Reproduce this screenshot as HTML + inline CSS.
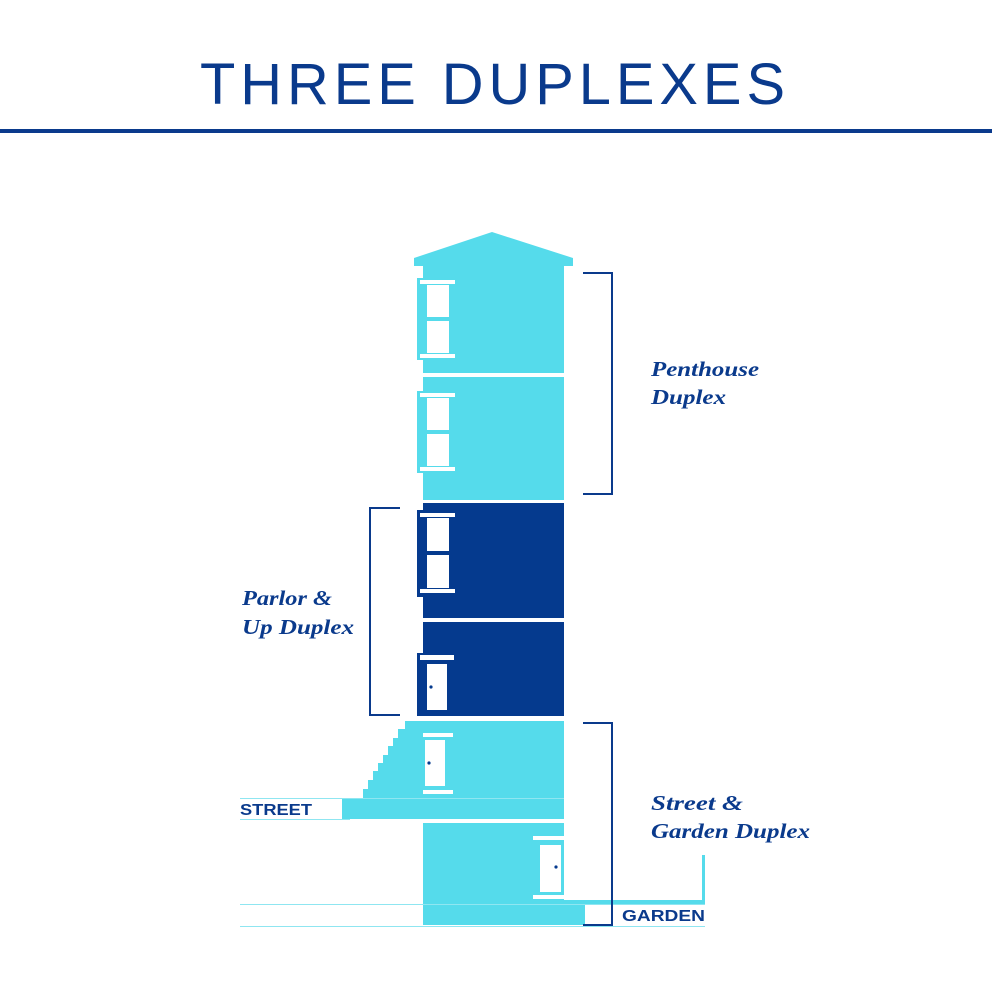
<!DOCTYPE html>
<html><head><style>
html,body{margin:0;padding:0;background:#fff;}
svg{display:block;}
.lbl{font-family:"Liberation Serif",serif;font-weight:bold;font-style:italic;font-size:21px;fill:#0a3a8c;}
.cap{font-family:"Liberation Sans",sans-serif;font-weight:bold;font-size:16px;fill:#0a3a8c;}
</style></head><body>
<svg width="992" height="992" viewBox="0 0 992 992" xmlns="http://www.w3.org/2000/svg">
<text x="495" y="104" text-anchor="middle" font-family="Liberation Sans,sans-serif" font-size="58" fill="#0a3a8c" letter-spacing="5" textLength="590" lengthAdjust="spacingAndGlyphs">THREE DUPLEXES</text>
<rect x="0" y="129" width="992" height="4" fill="#0a3a8c"/>

<polygon points="414,258 492,232 573,258 573,266 414,266" fill="#55dbeb"/>
<rect x="423" y="265" width="141" height="108" fill="#55dbeb"/>
<rect x="423" y="377" width="141" height="123" fill="#55dbeb"/>
<g>
<rect x="417" y="278" width="6" height="82" fill="#55dbeb"/>
<rect x="420" y="280" width="35" height="4" fill="#fff"/>
<rect x="427" y="285" width="22" height="68" fill="#fff"/>
<rect x="427" y="317" width="22" height="4" fill="#55dbeb"/>
<rect x="420" y="354" width="35" height="4" fill="#fff"/>
</g>
<g>
<rect x="417" y="391" width="6" height="82" fill="#55dbeb"/>
<rect x="420" y="393" width="35" height="4" fill="#fff"/>
<rect x="427" y="398" width="22" height="68" fill="#fff"/>
<rect x="427" y="430" width="22" height="4" fill="#55dbeb"/>
<rect x="420" y="467" width="35" height="4" fill="#fff"/>
</g>
<rect x="423" y="503" width="141" height="115" fill="#053a8e"/>
<rect x="423" y="622" width="141" height="94" fill="#053a8e"/>
<rect x="417" y="510" width="6" height="87" fill="#053a8e"/>
<rect x="420" y="513" width="35" height="4" fill="#fff"/>
<rect x="427" y="518" width="22" height="70" fill="#fff"/>
<rect x="427" y="551" width="22" height="4" fill="#053a8e"/>
<rect x="420" y="589" width="35" height="4" fill="#fff"/>
<rect x="417" y="653" width="6" height="63" fill="#053a8e"/>
<rect x="420" y="655" width="34" height="5" fill="#fff"/>
<rect x="427" y="664" width="20" height="46" fill="#fff"/>
<circle cx="431" cy="687" r="1.6" fill="#053a8e"/>
<rect x="423" y="721" width="141" height="77" fill="#55dbeb"/>
<polygon points="405,721 423,721 423,798 363,798 363,789 368,789 368,780 373,780 373,771 378,771 378,763 383,763 383,755 388,755 388,746 393,746 393,738 398,738 398,729 405,729" fill="#55dbeb"/>
<rect x="423" y="733" width="30" height="4" fill="#fff"/>
<rect x="425" y="740" width="20" height="46" fill="#fff"/>
<circle cx="429" cy="763" r="1.6" fill="#053a8e"/>
<rect x="423" y="790" width="30" height="4" fill="#fff"/>
<rect x="342" y="799" width="222" height="20" fill="#55dbeb"/>
<rect x="240" y="798" width="324" height="1" fill="#8fe6f1"/>
<rect x="240" y="819" width="110" height="1" fill="#8fe6f1"/>
<text x="240" y="815" class="cap" textLength="72" lengthAdjust="spacingAndGlyphs">STREET</text>
<rect x="423" y="823" width="141" height="82" fill="#55dbeb"/>
<rect x="533" y="836" width="31" height="4" fill="#fff"/>
<rect x="540" y="845" width="21" height="47" fill="#fff"/>
<circle cx="556" cy="867" r="1.6" fill="#053a8e"/>
<rect x="533" y="895" width="31" height="4" fill="#fff"/>
<rect x="423" y="905" width="162" height="20" fill="#55dbeb"/>
<rect x="564" y="900" width="141" height="4" fill="#55dbeb"/>
<rect x="702" y="855" width="3" height="49" fill="#55dbeb"/>
<rect x="240" y="904" width="465" height="1" fill="#8fe6f1"/>
<rect x="240" y="926" width="465" height="1" fill="#8fe6f1"/>
<text x="622" y="921" class="cap" textLength="83" lengthAdjust="spacingAndGlyphs">GARDEN</text>
<polyline points="583,273 612,273 612,494 583,494" fill="none" stroke="#0a3a8c" stroke-width="2"/>
<polyline points="400,508 370,508 370,715 400,715" fill="none" stroke="#0a3a8c" stroke-width="2"/>
<polyline points="583,723 612,723 612,925 583,925" fill="none" stroke="#0a3a8c" stroke-width="2"/>
<text x="651" y="376" class="lbl" textLength="108" lengthAdjust="spacingAndGlyphs">Penthouse</text>
<text x="651" y="404" class="lbl" textLength="75" lengthAdjust="spacingAndGlyphs">Duplex</text>
<text x="242" y="605" class="lbl" textLength="90" lengthAdjust="spacingAndGlyphs">Parlor &amp;</text>
<text x="242" y="634" class="lbl" textLength="112" lengthAdjust="spacingAndGlyphs">Up Duplex</text>
<text x="651" y="810" class="lbl" textLength="92" lengthAdjust="spacingAndGlyphs">Street &amp;</text>
<text x="651" y="838" class="lbl" textLength="159" lengthAdjust="spacingAndGlyphs">Garden Duplex</text>
</svg>
</body></html>
